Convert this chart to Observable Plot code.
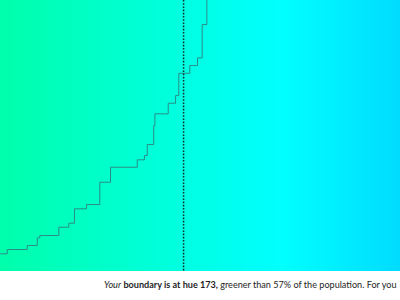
<!DOCTYPE html>
<html>
<head>
<meta charset="utf-8">
<script src="https://cdn.jsdelivr.net/npm/d3@7"></script>
<script src="https://cdn.jsdelivr.net/npm/@observablehq/plot@0.6"></script>
<style>
  html, body { margin: 0; padding: 0; background: #fff; width: 400px; height: 300px; overflow: hidden; }
  #chart svg { display: block; }
  #caption {
    font-family: Lato, "Open Sans", sans-serif;
    font-size: 9.1px;
    color: #1e1e1e;
    white-space: nowrap;
    padding-left: 104px;
    margin-top: 8px;
    line-height: 12px;
  }
  #caption b { font-weight: 700; }
</style>
</head>
<body>
<div id="chart"></div>
<div id="caption"><em>Your</em> <b>boundary is at hue 173,</b> greener than 57% of the population. For you</div>
<script>
// Cumulative share of the population (percent) whose boundary lies below each hue (step-after)
const hues = [160.0, 160.48, 161.90, 162.61, 162.79, 164.14, 164.85, 165.25, 166.11, 167.05, 167.81, 169.71,
              170.22, 170.42, 170.88, 170.96, 171.91, 172.43, 172.66, 173.44, 173.99, 174.32, 174.65];
const shares = [5.09, 6.32, 7.47, 9.68, 10.34, 12.73, 13.88, 18.02, 19.25, 25.66, 29.97, 32.10,
                33.33, 36.49, 41.95, 45.32, 48.36, 50.57, 56.98, 59.20, 61.41, 70.98, 90];
const userHue = [173];
const hueDomain = [160, 188.4];
const shareDomain = [0, 77.9];

const steps = hues.map((h, i) => ({hue: h, share: shares[i]}));

// background hue bands (the x axis itself is the hue)
const bandWidth = 0.071;
const bands = d3.range(hueDomain[0], hueDomain[1], bandWidth);

const chart = Plot.plot({
  width: 400,
  height: 271,
  marginTop: 0, marginRight: 0, marginBottom: 0, marginLeft: 0,
  x: {domain: hueDomain, axis: null},
  y: {domain: shareDomain, axis: null},
  color: {type: "identity"},
  marks: [
    Plot.rect(bands, {
      x1: d => d, x2: d => d + bandWidth * 1.5, y1: shareDomain[0], y2: shareDomain[1],
      fill: d => d3.hsl(d, 1, 0.5).formatHex(),
      shapeRendering: "crispEdges"
    }),
    Plot.line(steps, {x: "hue", y: "share", curve: "step-after", stroke: "#2a8c88", strokeWidth: 1, clip: true}),
    Plot.ruleX(userHue, {stroke: "#1c2b2b", strokeWidth: 1.5, strokeDasharray: "1.6,1.6"})
  ]
});
document.getElementById("chart").appendChild(chart);
</script>
</body>
</html>
